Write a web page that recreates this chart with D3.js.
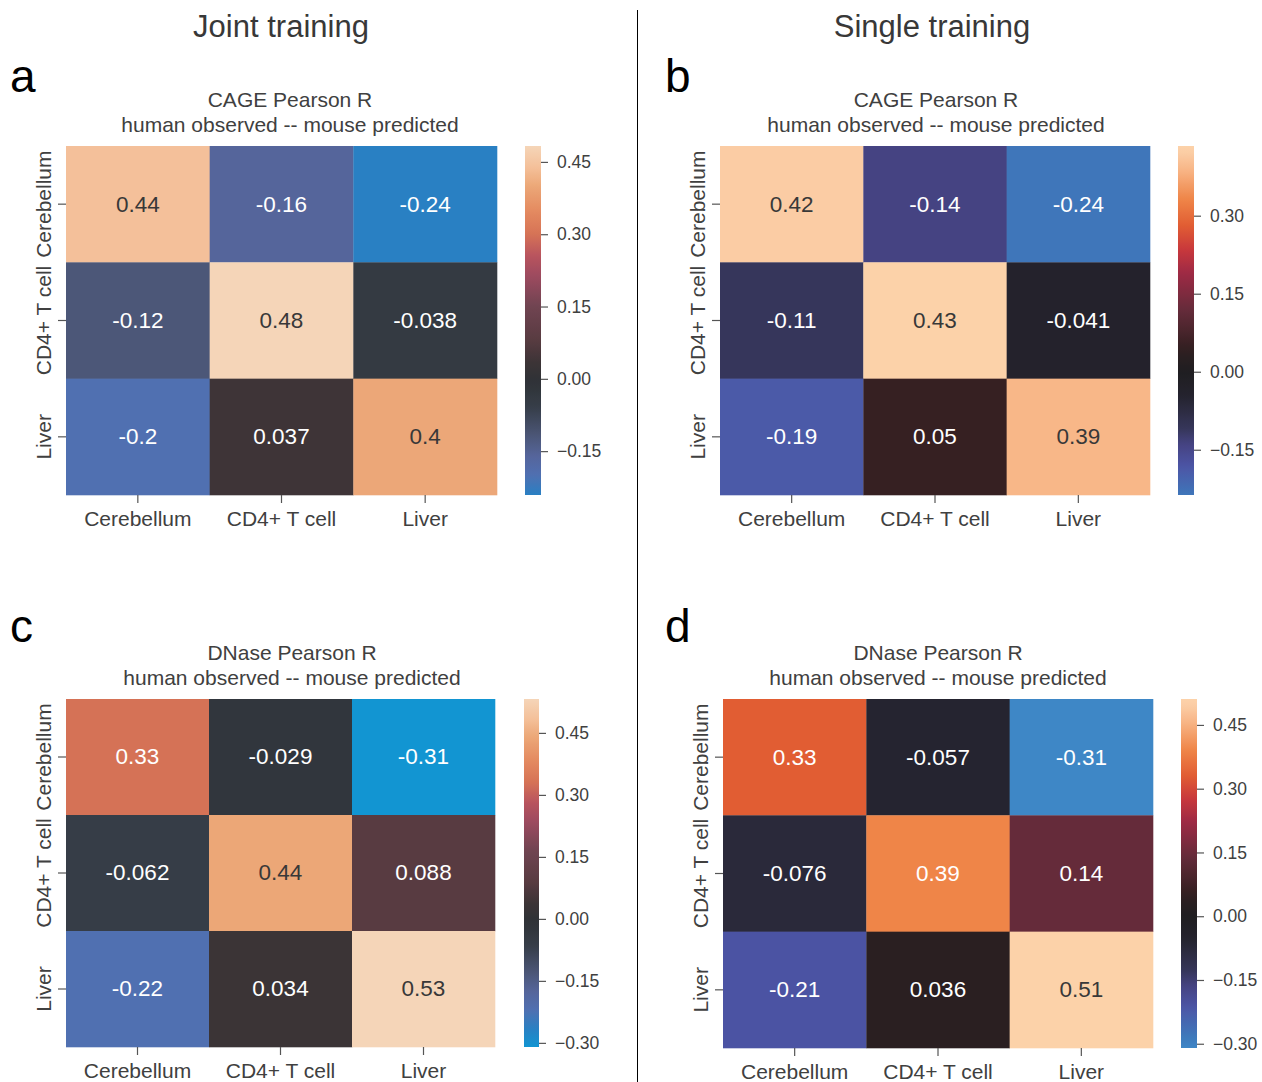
<!DOCTYPE html>
<html>
<head>
<meta charset="utf-8">
<script src="https://cdn.jsdelivr.net/npm/d3@7"></script>
<style>
  html, body { margin: 0; padding: 0; background: #fff; }
  svg text { font-family: "Liberation Sans", Arial, Helvetica, sans-serif; }
</style>
</head>
<body>
<svg id="fig" width="1262" height="1082"></svg>
<script>
// Tissues on both axes (rows: human observed, columns: mouse predicted)
const tissues = ["Cerebellum", "CD4+ T cell", "Liver"];

// Pearson R matrices
const cageJoint = [
  [0.44, -0.16, -0.241],
  [-0.12, 0.483, -0.038],
  [-0.2, 0.037, 0.4]
];
const cageSingle = [
  [0.42, -0.14, -0.237],
  [-0.11, 0.434, -0.041],
  [-0.19, 0.05, 0.39]
];
const dnaseJoint = [
  [0.33, -0.029, -0.31],
  [-0.062, 0.44, 0.088],
  [-0.22, 0.034, 0.532]
];
const dnaseSingle = [
  [0.33, -0.057, -0.31],
  [-0.076, 0.39, 0.14],
  [-0.21, 0.036, 0.511]
];

// Colour bar tick values
const ticksCageJoint = [-0.15, 0, 0.15, 0.30, 0.45];
const ticksCageSingle = [-0.15, 0, 0.15, 0.30];
const ticksDnaseJoint = [-0.30, -0.15, 0, 0.15, 0.30, 0.45];
const ticksDnaseSingle = [-0.30, -0.15, 0, 0.15, 0.30, 0.45];

// Diverging colour maps, parameterised on t in [0,1] with 0 at t = 0.5
const jointStops = [
  [0.00, "#1aa6dc"], [0.2075, "#1196d2"], [0.25, "#2980c3"], [0.293, "#5070b1"],
  [0.334, "#55659b"], [0.376, "#4c5778"], [0.44, "#363d48"], [0.46, "#343a42"],
  [0.473, "#31363d"], [0.5, "#303236"], [0.535, "#3c3436"], [0.583, "#583b41"],
  [0.655, "#704451"], [0.72, "#9c4a5f"], [0.765, "#b9545e"], [0.811, "#d67356"],
  [0.86, "#e48a60"], [0.915, "#eca878"], [0.955, "#f4c09a"], [1.0, "#f5d5b8"]
];
const singleStops = [
  [0.00, "#5aa8d4"], [0.196, "#3e87c6"], [0.224, "#3e78bb"], [0.282, "#4b5aa8"],
  [0.294, "#4b53a3"], [0.339, "#454382"], [0.374, "#36365a"], [0.426, "#2a293a"],
  [0.444, "#252430"], [0.453, "#24222c"], [0.5, "#1f1e21"], [0.535, "#2a1f21"],
  [0.557, "#362022"], [0.637, "#652b3a"], [0.718, "#9e2a45"], [0.77, "#c8383c"],
  [0.8235, "#e15d33"], [0.882, "#ef8548"], [0.948, "#f8b687"], [0.983, "#fbcca4"],
  [1.0, "#fcd2a9"]
];

function makeCmap(stops) {
  return d3.scaleLinear()
    .domain(stops.map(s => s[0]))
    .range(stops.map(s => s[1]))
    .interpolate(d3.interpolateRgb)
    .clamp(true);
}
const jointCmap = makeCmap(jointStops);
const singleCmap = makeCmap(singleStops);

const fontFam = "\"Liberation Sans\", Arial, Helvetica, sans-serif";
const labelColor = "#404040";
const tickColor = "#555";

const svg = d3.select("#fig");

// Column headings and divider
svg.append("text").attr("x", 281).attr("y", 37).attr("text-anchor", "middle")
  .attr("font-size", 31).attr("fill", "#383838").text("Joint training");
svg.append("text").attr("x", 932).attr("y", 37).attr("text-anchor", "middle")
  .attr("font-size", 31).attr("fill", "#383838").text("Single training");
svg.append("line").attr("x1", 637.5).attr("x2", 637.5).attr("y1", 10).attr("y2", 1082)
  .attr("stroke", "#000").attr("stroke-width", 1);

const panels = [
  { letter: "a", lx: 10, ly: 92, title: "CAGE Pearson R", data: cageJoint, cmap: jointCmap,
    ticks: ticksCageJoint, x: 66, y: 146, w: 431, h: 349, cbx: 525, cbw: 16, tx: 290 },
  { letter: "b", lx: 665, ly: 92, title: "CAGE Pearson R", data: cageSingle, cmap: singleCmap,
    ticks: ticksCageSingle, x: 720, y: 146, w: 430, h: 349, cbx: 1178, cbw: 16, tx: 936 },
  { letter: "c", lx: 10, ly: 642, title: "DNase Pearson R", data: dnaseJoint, cmap: jointCmap,
    ticks: ticksDnaseJoint, x: 66, y: 699, w: 429, h: 348, cbx: 524, cbw: 15, tx: 292 },
  { letter: "d", lx: 665, ly: 642, title: "DNase Pearson R", data: dnaseSingle, cmap: singleCmap,
    ticks: ticksDnaseSingle, x: 723, y: 699, w: 430, h: 349, cbx: 1181, cbw: 16, tx: 938 }
];

// Cell annotations: two significant digits with a plain hyphen for negatives
const annotFmt = d3.formatLocale({ decimal: ".", thousands: ",", grouping: [3], currency: ["", ""], minus: "-" }).format(".2~g");
const cbFmt = d3.format(".2f");

function luminance(c) {
  const rgb = d3.rgb(c);
  const lin = v => { v /= 255; return v <= 0.03928 ? v / 12.92 : Math.pow((v + 0.055) / 1.055, 2.4); };
  return 0.2126 * lin(rgb.r) + 0.7152 * lin(rgb.g) + 0.0722 * lin(rgb.b);
}

const defs = svg.append("defs");

panels.forEach((p, pi) => {
  const flat = p.data.flat();
  const vmin = d3.min(flat), vmax = d3.max(flat);
  const vrange = Math.max(Math.abs(vmin), Math.abs(vmax));
  const color = v => p.cmap(0.5 + v / (2 * vrange));

  // Panel letter
  svg.append("text").attr("x", p.lx).attr("y", p.ly).attr("font-size", 46)
    .attr("fill", "#000").text(p.letter);

  svg.append("text").attr("x", p.tx).attr("y", p.y - 39).attr("text-anchor", "middle")
    .attr("font-size", 21).attr("fill", labelColor).text(p.title);
  svg.append("text").attr("x", p.tx).attr("y", p.y - 14).attr("text-anchor", "middle")
    .attr("font-size", 21).attr("fill", labelColor).text("human observed -- mouse predicted");

  const xs = d3.scaleBand().domain(tissues).range([p.x, p.x + p.w]).padding(0);
  const ys = d3.scaleBand().domain(tissues).range([p.y, p.y + p.h]).padding(0);

  const cells = [];
  p.data.forEach((row, i) => row.forEach((v, j) => cells.push({ r: tissues[i], c: tissues[j], v })));

  const g = svg.append("g");
  g.selectAll("rect").data(cells).join("rect")
    .attr("x", d => xs(d.c)).attr("y", d => ys(d.r))
    .attr("width", xs.bandwidth() + 0.3).attr("height", ys.bandwidth() + 0.3)
    .attr("fill", d => color(d.v));

  g.selectAll("text").data(cells).join("text")
    .attr("x", d => xs(d.c) + xs.bandwidth() / 2)
    .attr("y", d => ys(d.r) + ys.bandwidth() / 2)
    .attr("dy", "0.33em")
    .attr("text-anchor", "middle")
    .attr("font-size", 22.5)
    .attr("fill", d => luminance(color(d.v)) > 0.408 ? "#383838" : "#fff")
    .text(d => annotFmt(d.v));

  // Axes
  const xAxis = d3.axisBottom(xs).tickSize(8).tickPadding(8);
  const gx = svg.append("g").attr("transform", `translate(0,${p.y + p.h})`).call(xAxis);
  gx.select(".domain").remove();
  gx.selectAll("line").attr("stroke", tickColor).attr("stroke-width", 1.2);
  gx.selectAll("text").attr("font-size", 21).attr("fill", labelColor).attr("font-family", fontFam);

  const yAxis = d3.axisLeft(ys).tickSize(8).tickPadding(6);
  const gy = svg.append("g").attr("transform", `translate(${p.x},0)`).call(yAxis);
  gy.select(".domain").remove();
  gy.selectAll("line").attr("stroke", tickColor).attr("stroke-width", 1.2);
  gy.selectAll("text")
    .attr("font-size", 21).attr("fill", labelColor).attr("font-family", fontFam)
    .attr("text-anchor", "middle").attr("x", 0).attr("dy", 0)
    .attr("transform", "translate(-15,0) rotate(-90)");

  // Colour bar
  const gid = "cb" + pi;
  const grad = defs.append("linearGradient").attr("id", gid)
    .attr("x1", 0).attr("y1", 1).attr("x2", 0).attr("y2", 0);
  d3.range(0, 101).forEach(k => {
    const v = vmin + (vmax - vmin) * k / 100;
    grad.append("stop").attr("offset", k + "%").attr("stop-color", color(v));
  });
  svg.append("rect").attr("x", p.cbx).attr("y", p.y).attr("width", p.cbw).attr("height", p.h)
    .attr("fill", `url(#${gid})`);
  const cs = d3.scaleLinear().domain([vmin, vmax]).range([p.y + p.h, p.y]);
  const cbAxis = d3.axisRight(cs).tickValues(p.ticks).tickFormat(cbFmt).tickSize(7).tickPadding(9);
  const gc = svg.append("g").attr("transform", `translate(${p.cbx + p.cbw},0)`).call(cbAxis);
  gc.select(".domain").remove();
  gc.selectAll("line").attr("stroke", tickColor).attr("stroke-width", 1.2);
  gc.selectAll("text").attr("font-size", 17.5).attr("fill", labelColor).attr("font-family", fontFam);
});
</script>
</body>
</html>
